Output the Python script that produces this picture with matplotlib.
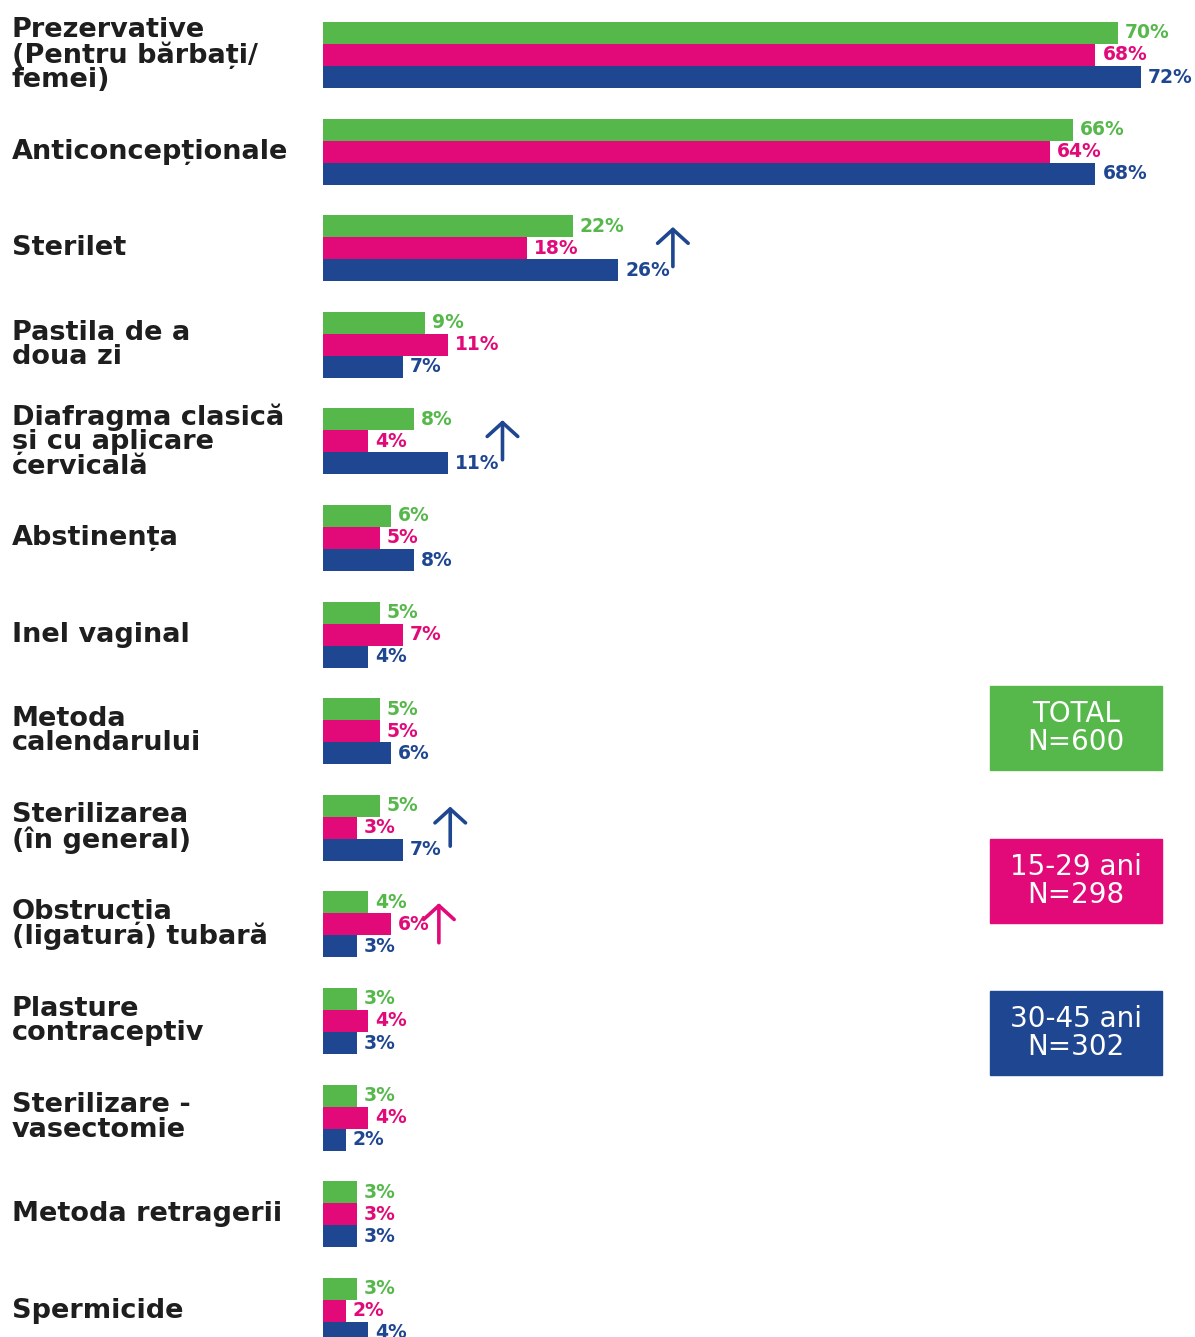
import matplotlib
matplotlib.use("Agg")
import matplotlib.pyplot as plt
from matplotlib.patches import Rectangle

# Data
labels = [
    "Prezervative\n(Pentru bărbați/\nfemei)",
    "Anticoncepționale",
    "Sterilet",
    "Pastila de a\ndoua zi",
    "Diafragma clasică\nși cu aplicare\ncervicală",
    "Abstinența",
    "Inel vaginal",
    "Metoda\ncalendarului",
    "Sterilizarea\n(în general)",
    "Obstrucția\n(ligatura) tubară",
    "Plasture\ncontraceptiv",
    "Sterilizare -\nvasectomie",
    "Metoda retragerii",
    "Spermicide",
]
total = [70, 66, 22, 9, 8, 6, 5, 5, 5, 4, 3, 3, 3, 3]
age_15_29 = [68, 64, 18, 11, 4, 5, 7, 5, 3, 6, 4, 4, 3, 2]
age_30_45 = [72, 68, 26, 7, 11, 8, 4, 6, 7, 3, 3, 2, 3, 4]
series_names = ["TOTAL\nN=600", "15-29 ani\nN=298", "30-45 ani\nN=302"]
# significant increases: (category index, series index)
arrows = [(2, 2), (4, 2), (8, 2), (9, 1)]

colors = ["#56B84B", "#E20A78", "#1F4691"]
dark = "#1E1E1E"

W, H = 1195, 1337
fig = plt.figure(figsize=(W / 100, H / 100), dpi=100)
ax = fig.add_axes([323 / W, 0, 1 - 323 / W, 1])

n = len(labels)
bh = 0.228
series = [total, age_15_29, age_30_45]
for s, vals in enumerate(series):
    ys = [i + (s - 1) * bh for i in range(n)]
    ax.barh(ys, vals, height=bh, color=colors[s], linewidth=0)
    for y, v in zip(ys, vals):
        ax.annotate(f"{v}%", (v, y), xytext=(5, 0), textcoords="offset points",
                    va="center", ha="left", color=colors[s],
                    fontsize=13.5, fontweight="bold")

for i, s in arrows:
    v = series[s][i]
    x = v + (4.8 if v >= 10 else 4.2)
    ax.annotate("", xy=(x, i - 0.22), xytext=(x, i + 0.19),
                arrowprops=dict(arrowstyle="->,head_length=0.5,head_width=0.55",
                                mutation_scale=20, color=colors[s], lw=2.6,
                                shrinkA=0, shrinkB=0))

ax.set_xlim(0, (W - 323) / 11.36)
ax.set_ylim((H - 55) / 96.6, -55 / 96.6)
ax.axis("off")

for i, lab in enumerate(labels):
    fig.text(12 / W, 1 - (55 + i * 96.6) / H, lab, ha="left", va="center",
             fontsize=19.5, fontweight="bold", color=dark, linespacing=0.92)

# legend boxes
box_tops = [686, 839, 991]
for s, name in enumerate(series_names):
    top = box_tops[s]
    fig.add_artist(Rectangle((990 / W, 1 - (top + 84) / H), 172 / W, 84 / H,
                             transform=fig.transFigure, color=colors[s]))
    fig.text((990 + 86) / W, 1 - (top + 42) / H, name, ha="center", va="center",
             color="white", fontsize=20, linespacing=1.0)

fig.savefig("out.png", dpi=100)
